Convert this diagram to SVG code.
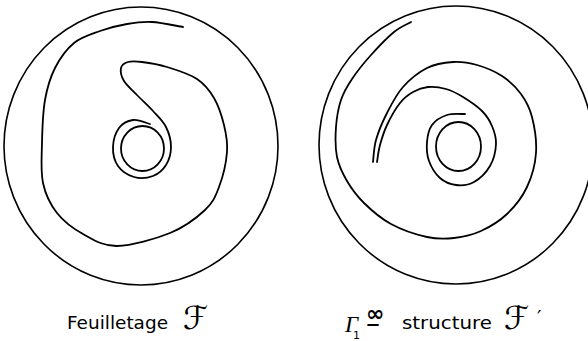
<svg xmlns="http://www.w3.org/2000/svg" width="588" height="341" viewBox="0 0 588 341">
<style>
.ln{fill:none;stroke:#000;stroke-width:1.8;stroke-linecap:round;stroke-linejoin:round}
.out{fill:none;stroke:#000;stroke-width:1.6}
.lbl{font-family:"DejaVu Sans","Liberation Sans",sans-serif;font-size:18px;fill:#000}
.scr{font-family:"DejaVu Serif","DejaVu Sans",serif;font-style:italic;font-size:32px;fill:#000}
</style>
<rect width="588" height="341" fill="#fff"/>
<g id="feuilletage">
<ellipse class="out" cx="141" cy="146" rx="137" ry="139"/>
<ellipse class="ln" cx="142.5" cy="148.5" rx="21.5" ry="22.5"/>
<path class="ln" d="M150,124 C147.2,123.3 138.2,119.3 133,120 S122.3,123.5 119,128 S113.2,140.7 113,147 S114.5,161 118,166 S128.2,175.3 134,177 S147.7,178 153,176 S163,169.8 166,165 S171,153.3 171,147 S169,133 166,127 S157.8,116.3 153,111 S141.8,100 137,95 S126.7,85.5 124,81 S120.3,71.2 121,68 S124.5,63 128,62 S135.5,61.2 142,62 S157.8,64.2 167,67 S189.2,73.8 197,79 S209.5,90.3 214,98 S221.8,116 224,125 S227.8,141.7 227,152 S222.7,177.3 219,187 S213.2,202.3 205,210 S184.7,227 170,233 S131.5,245.8 117,246 S93,239.5 83,234 S63.7,221.5 57,213 S45.5,194.7 43,183 S41.7,156.8 42,143 S42.8,112.5 45,100 S50.2,77.5 55,68 S66.5,49.2 74,43 S91.2,34.2 100,31 S118.3,25.5 127,24 S142.7,21.5 152,22 S177.8,26.2 183,27"/>
<text class="lbl" x="67" y="329" textLength="101" lengthAdjust="spacingAndGlyphs">Feuilletage</text>
<text class="scr" x="183" y="329">ℱ</text>
</g>
<g id="structure">
<ellipse class="out" cx="456" cy="145" rx="137" ry="139"/>
<ellipse class="ln" cx="458.5" cy="146.5" rx="22.5" ry="24.5"/>
<path class="ln" d="M465,114 C462,114.2 452.5,113.2 447,115 S435.3,120.5 432,125 S427.5,136 427,142 S426.8,155 429,161 S435.5,174 440,178 S450.3,184.3 456,185 S468.3,185.2 474,182 S486.3,172.3 490,166 S495.7,150.7 496,144 S494.3,131.5 492,126 S486.8,115.8 482,111 S469,100.7 463,97 S451.8,90.7 446,89 S433.5,86.5 428,87 S417.7,89.3 413,92 S404.3,97.5 400,103 S390.3,118 387,125 S381.7,138.8 380,145 S377.5,159.2 377,162"/>
<path class="ln" d="M411,22 C408.2,23.7 400.7,26.5 394,32 S378,47.2 371,55 S357,71.5 352,79 S343.7,92 341,100 S336.7,117.5 336,127 S335.2,148 337,157 S342.5,173.3 347,181 S356.7,195.8 364,203 S380.5,218.3 391,224 S416.5,234.7 427,237 S445,239 454,238 S472.2,235 481,231 S499.3,221.3 507,214 S522.2,197.2 527,187 S535.2,164.7 536,153 S534.5,126.8 532,117 S526,100.8 521,94 S509.3,80.8 502,76 S485.2,67.3 477,65 S461.3,61.5 453,62 S435.3,63.8 427,68 S409.7,79.5 403,87 S391.5,104.2 387,113 S378.3,131.8 376,140 S373.5,158.3 373,162"/>
<text font-family="DejaVu Sans,sans-serif" font-size="18" fill="#000"><tspan x="345" y="332" font-family="Liberation Serif,serif" font-style="italic" font-size="23">Γ</tspan><tspan x="353" y="339" font-size="11">1</tspan><tspan x="366" y="321" font-weight="bold" font-size="22">∞</tspan><tspan x="366" y="333" font-size="28">–</tspan></text>
<text class="lbl" x="402" y="329" textLength="90" lengthAdjust="spacingAndGlyphs">structure</text>
<text class="scr" x="504" y="329">ℱ</text>
<text x="537" y="324" font-family="DejaVu Sans,sans-serif" font-size="20" fill="#000">′</text>
</g>
</svg>
